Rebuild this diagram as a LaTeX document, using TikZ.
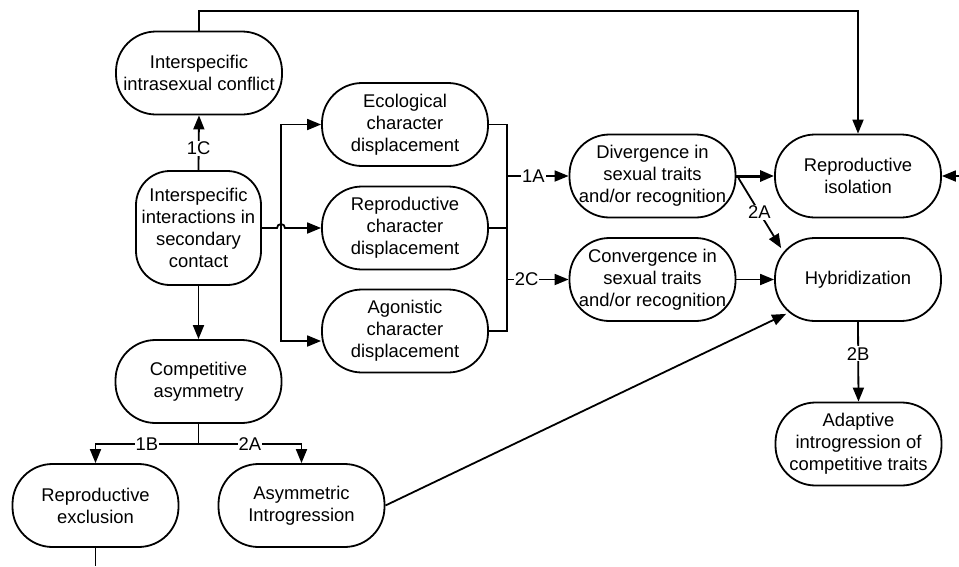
\documentclass[tikz,border=0pt]{standalone}
\usepackage{fontspec}
\setmainfont{Liberation Sans}
\usetikzlibrary{arrows.meta,calc}
\begin{document}
\begin{tikzpicture}[x=1pt,y=-1pt,
  box/.style={draw, line width=1.8pt, rounded corners=40pt, minimum width=166pt, minimum height=83pt,
    align=center, inner sep=2pt, font=\fontsize{18.4pt}{22pt}\selectfont},
  conn/.style={line width=1.8pt},
  arr/.style={conn, -{Triangle[length=14pt,width=11pt]}},
  lbl/.style={fill=white, inner sep=1pt, font=\fontsize{18.4pt}{22pt}\selectfont}]
\useasboundingbox (0,0) rectangle (959,566);
% nodes
\node[box] (conf) at (199,73) {Interspecific\\intrasexual conflict};
\node[box, minimum width=125pt, minimum height=114pt, rounded corners=34pt] (inter) at (198.5,228) {Interspecific\\interactions in\\secondary\\contact};
\node[box] (eco) at (405,124.5) {Ecological\\character\\displacement};
\node[box] (rep) at (405,228) {Reproductive\\character\\displacement};
\node[box] (agon) at (405,331) {Agonistic\\character\\displacement};
\node[box] (comp) at (198.5,381.5) {Competitive\\asymmetry};
\node[box] (rexcl) at (95.5,505.5) {Reproductive\\exclusion};
\node[box] (asym) at (301.5,505.5) {Asymmetric\\Introgression};
\node[box] (div) at (652.5,176) {Divergence in\\sexual traits\\and/or recognition};
\node[box] (conv) at (652.5,279.5) {Convergence in\\sexual traits\\and/or recognition};
\node[box] (isol) at (858,176) {Reproductive\\isolation};
\node[box] (hyb) at (858,279.5) {Hybridization};
\node[box] (adapt) at (858.5,444) {Adaptive\\introgression of\\competitive traits};
% helper coordinates
\coordinate (redge) at (959,176);
\coordinate (bedge) at (95.5,566);
\coordinate (split) at (198.5,444);
\coordinate (vl) at (281,228);
\coordinate (br) at (507,228);
% connectors
\draw[arr] (conf.north) -- (199,11) -| (isol.north);
\draw[arr] (redge) -- (isol.east);
\draw[conn] (rexcl.south) -- (bedge);
\draw[arr] (inter.north) -- node[lbl, pos=0.4] {1C} (conf.south);
\draw[arr] (inter.south) -- (comp.north);
\draw[arr] (inter.east) -- (277,228) arc[start angle=180, end angle=360, radius=4] -- (rep.west);
\draw[arr] (vl) |- (eco.west);
\draw[arr] (vl) |- ([yshift=-10pt]agon.west);
\draw[conn] (eco.east) -| (br) |- (agon.east);
\draw[conn] (rep.east) -- (br);
\draw[arr] (507,176) -- node[lbl, pos=0.43] {1A} (div.west);
\draw[arr] (507,279.5) -- node[lbl, pos=0.32] {2C} (conv.west);
\draw[arr, line width=3pt] (div.east) -- (isol.west);
\draw[arr] ($(div.east)+(2,2)$) -- node[lbl, pos=0.49] {2A} ($(hyb.north west)+(7,11)$);
\draw[arr] (conv.east) -- (hyb.west);
\draw[arr] (asym.east) -- ($(hyb.south west)+(12,-8)$);
\draw[arr] (hyb.south) -- node[lbl, pos=0.4] {2B} (adapt.north);
\draw[conn] (comp.south) -- (split);
\draw[arr] (split) -| node[lbl, pos=0.25] {1B} (rexcl.north);
\draw[arr] (split) -| node[lbl, pos=0.25] {2A} (asym.north);
\end{tikzpicture}
\end{document}
